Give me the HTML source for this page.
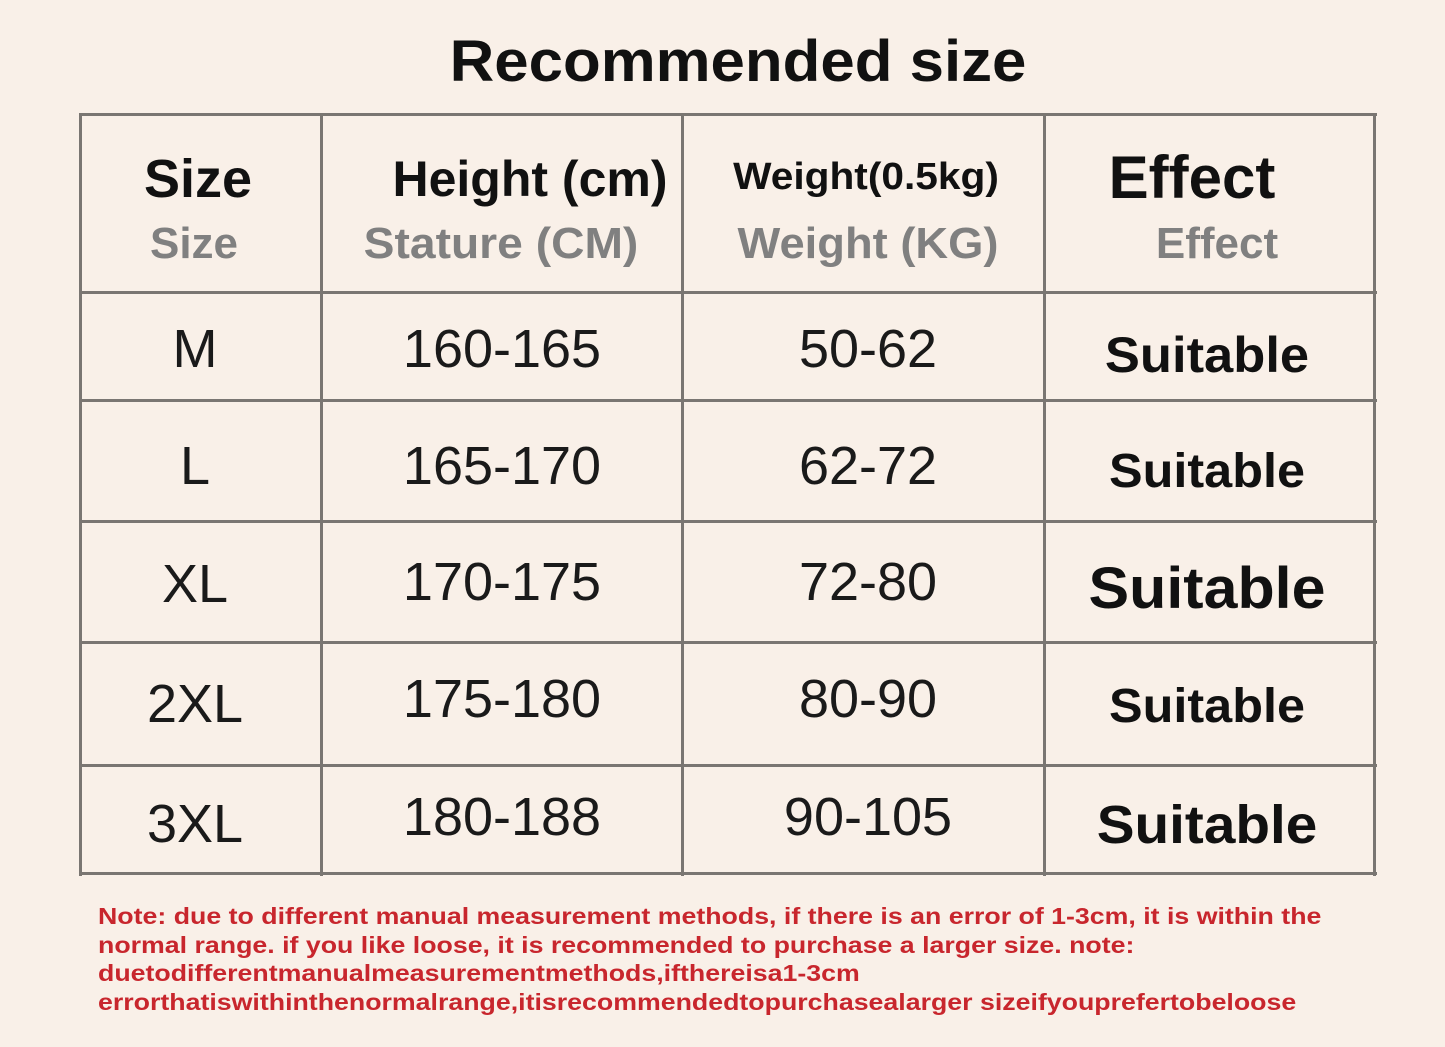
<!DOCTYPE html>
<html><head><style>
body{margin:0;width:1445px;height:1047px;background:#f9f0e8;position:relative;overflow:hidden;font-family:"Liberation Sans","DejaVu Sans",sans-serif}
.t{position:absolute;white-space:nowrap;line-height:1}
.c{transform:translateX(-50%)}
.h{position:absolute;background:#7a7672;height:3px;left:79px;width:1298px}
.v{position:absolute;background:#7a7672;width:3px;top:113px;height:763px}
.b{font-weight:bold;color:#111}
.g{font-weight:bold;color:#808080}
.n{color:#1a1a1a;font-size:54px}
.s{font-weight:bold;color:#111}
.note{position:absolute;left:98px;top:902px;color:#c8262d;font-weight:bold;font-size:23.5px;line-height:28.5px;white-space:nowrap;transform:scaleX(1.137);transform-origin:0 0}
</style></head><body>
<div class="t b" style="left:738px;top:33px;font-size:58px;transform:translateX(-50%) scaleX(1.065)">Recommended size</div>
<div class="h" style="top:113px"></div>
<div class="h" style="top:291px"></div>
<div class="h" style="top:399px"></div>
<div class="h" style="top:520px"></div>
<div class="h" style="top:641px"></div>
<div class="h" style="top:764px"></div>
<div class="h" style="top:872px"></div>
<div class="v" style="left:79px"></div>
<div class="v" style="left:320px"></div>
<div class="v" style="left:681px"></div>
<div class="v" style="left:1043px"></div>
<div class="v" style="left:1373px"></div>

<div class="t c b" style="left:198px;top:152px;font-size:54px">Size</div>
<div class="t c g" style="left:194px;top:222px;font-size:44px">Size</div>
<div class="t c b" style="left:530px;top:154px;font-size:50px">Height (cm)</div>
<div class="t g" style="left:501px;top:222px;font-size:44px;transform:translateX(-50%) scaleX(1.05)">Stature (CM)</div>
<div class="t b" style="left:866px;top:158px;font-size:38px;transform:translateX(-50%) scaleX(1.07)">Weight(0.5kg)</div>
<div class="t g" style="left:868px;top:222px;font-size:44px;transform:translateX(-50%) scaleX(1.03)">Weight (KG)</div>
<div class="t c b" style="left:1192px;top:148px;font-size:60px">Effect</div>
<div class="t c g" style="left:1217px;top:222px;font-size:44px">Effect</div>

<div class="t c n" style="left:195px;top:322px">M</div>
<div class="t c n" style="left:502px;top:322px">160-165</div>
<div class="t c n" style="left:868px;top:322px">50-62</div>
<div class="t s" style="left:1207px;top:330px;font-size:50px;transform:translateX(-50%) scaleX(1.05)">Suitable</div>

<div class="t c n" style="left:195px;top:439px">L</div>
<div class="t c n" style="left:502px;top:439px">165-170</div>
<div class="t c n" style="left:868px;top:439px">62-72</div>
<div class="t s" style="left:1207px;top:448px;font-size:48px;transform:translateX(-50%) scaleX(1.05)">Suitable</div>

<div class="t c n" style="left:195px;top:557px">XL</div>
<div class="t c n" style="left:502px;top:555px">170-175</div>
<div class="t c n" style="left:868px;top:555px">72-80</div>
<div class="t s" style="left:1207px;top:560px;font-size:58px;transform:translateX(-50%) scaleX(1.05)">Suitable</div>

<div class="t c n" style="left:195px;top:677px">2XL</div>
<div class="t c n" style="left:502px;top:672px">175-180</div>
<div class="t c n" style="left:868px;top:672px">80-90</div>
<div class="t s" style="left:1207px;top:683px;font-size:48px;transform:translateX(-50%) scaleX(1.05)">Suitable</div>

<div class="t c n" style="left:195px;top:797px">3XL</div>
<div class="t c n" style="left:502px;top:790px">180-188</div>
<div class="t c n" style="left:868px;top:790px">90-105</div>
<div class="t s" style="left:1207px;top:798px;font-size:54px;transform:translateX(-50%) scaleX(1.05)">Suitable</div>

<div class="note">Note: due to different manual measurement methods, if there is an error of 1-3cm, it is within the<br>normal range. if you like loose, it is recommended to purchase a larger size. note:<br>duetodifferentmanualmeasurementmethods,ifthereisa1-3cm<br>errorthatiswithinthenormalrange,itisrecommendedtopurchasealarger sizeifyouprefertobeloose</div>
</body></html>
